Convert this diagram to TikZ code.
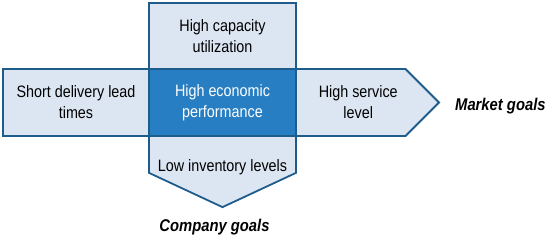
\documentclass[tikz,border=0pt]{standalone}
\usepackage{fontspec}
\setmainfont{Liberation Sans}[FakeStretch=0.87]
\usetikzlibrary{shapes,positioning}

\definecolor{goalfill}{RGB}{220,230,242}
\definecolor{goalline}{RGB}{30,92,140}
\definecolor{corefill}{RGB}{40,126,194}

\begin{document}
\begin{tikzpicture}[x=1pt, y=1pt, font=\fontsize{16.5pt}{21pt}\selectfont]
    % Styles
    \tikzstyle{goal} = [draw=goalline, fill=goalfill, line width=1.8pt, align=center, inner sep=0pt, outer sep=0pt, minimum width=147pt, minimum height=67pt]
    \tikzstyle{goaltext} = [inner sep=0pt, font=\fontsize{17pt}{20pt}\selectfont\bfseries\itshape]

    \useasboundingbox (0,0) rectangle (550,238);

    % Nodes
    \node [goal, fill=corefill, text=white] (perf) at (222.5,135.5) {High economic\\performance};
    \node [goal, above=0pt of perf, minimum height=66pt] (capa) {High capacity\\utilization};
    \node [goal, left=0pt of perf, minimum width=146pt] (lead) {Short delivery lead\\times};
    \node [goal, signal, signal to=east, right=0pt of perf, minimum width=143pt] (serv) {\hspace*{15pt}High service\\\hspace*{15pt}level};
    \node [goal, signal, signal to=south, signal pointer angle=130, below=0pt of perf, minimum height=67pt, text height=35pt, text depth=0pt] (stock) {Low inventory levels};

    % Goal labels
    \node [goaltext, right=16pt of serv, yshift=-4pt] (market) {Market goals};
    \node [goaltext, below=12pt of stock, xshift=-8pt] (company) {Company goals};
\end{tikzpicture}
\end{document}
